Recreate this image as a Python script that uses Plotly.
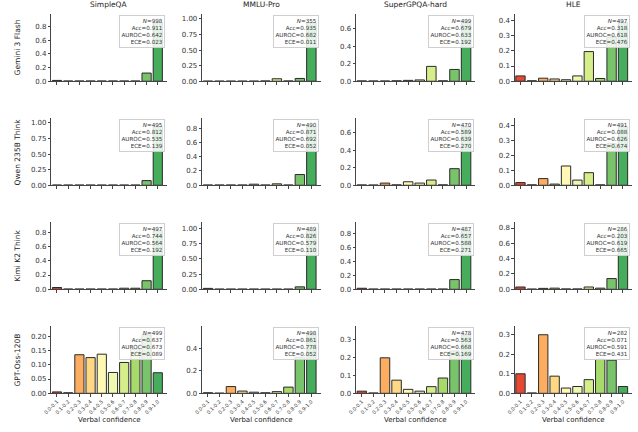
import plotly.graph_objects as go

datasets = ["SimpleQA", "MMLU-Pro", "SuperGPQA-hard", "HLE"]
models = ["Gemini 3 Flash", "Qwen 235B Think", "Kimi K2 Think", "GPT-Oss-120B"]
bins = ["0.0-0.1", "0.1-0.2", "0.2-0.3", "0.3-0.4", "0.4-0.5",
        "0.5-0.6", "0.6-0.7", "0.7-0.8", "0.8-0.9", "0.9-1.0"]

gemini_vals = [
    [0.012, 0.004, 0.004, 0.004, 0.004, 0.004, 0.004, 0.004, 0.12, 0.86],
    [0.002, 0.002, 0.002, 0.002, 0.002, 0.005, 0.04, 0.005, 0.045, 0.94],
    [0.004, 0.003, 0.003, 0.005, 0.01, 0.015, 0.17, 0.005, 0.135, 0.67],
    [0.035, 0.003, 0.02, 0.015, 0.01, 0.035, 0.195, 0.018, 0.29, 0.385],
]
qwen_vals = [
    [0.004, 0.004, 0.004, 0.004, 0.004, 0.004, 0.004, 0.004, 0.075, 0.94],
    [0.004, 0.004, 0.004, 0.004, 0.015, 0.004, 0.02, 0.004, 0.15, 0.82],
    [0.004, 0.003, 0.025, 0.005, 0.04, 0.025, 0.06, 0.005, 0.19, 0.67],
    [0.018, 0.003, 0.045, 0.008, 0.13, 0.035, 0.085, 0.003, 0.28, 0.395],
]
kimi_vals = [
    [0.025, 0.004, 0.004, 0.004, 0.004, 0.004, 0.015, 0.015, 0.12, 0.82],
    [0.015, 0.004, 0.004, 0.004, 0.004, 0.004, 0.004, 0.004, 0.04, 0.965],
    [0.015, 0.004, 0.004, 0.004, 0.004, 0.004, 0.004, 0.004, 0.14, 0.845],
    [0.03, 0.003, 0.012, 0.015, 0.005, 0.005, 0.03, 0.015, 0.14, 0.765],
]
gptoss_vals = [
    [0.005, 0.002, 0.135, 0.125, 0.137, 0.073, 0.108, 0.155, 0.205, 0.072],
    [0.005, 0.002, 0.06, 0.02, 0.01, 0.005, 0.015, 0.055, 0.32, 0.52],
    [0.012, 0.002, 0.197, 0.073, 0.022, 0.012, 0.037, 0.085, 0.235, 0.325],
    [0.1, 0.002, 0.30, 0.088, 0.027, 0.035, 0.07, 0.175, 0.17, 0.035],
]
all_vals = [gemini_vals, qwen_vals, kimi_vals, gptoss_vals]

stat_n = [[998, 355, 499, 497], [495, 490, 470, 491], [497, 489, 487, 286], [499, 498, 478, 282]]
stat_acc = [[0.911, 0.935, 0.679, 0.318], [0.812, 0.871, 0.589, 0.088],
            [0.744, 0.826, 0.657, 0.203], [0.637, 0.861, 0.563, 0.071]]
stat_auroc = [[0.642, 0.682, 0.633, 0.618], [0.535, 0.692, 0.639, 0.626],
              [0.564, 0.579, 0.588, 0.619], [0.673, 0.778, 0.668, 0.591]]
stat_ece = [[0.023, 0.011, 0.192, 0.476], [0.139, 0.052, 0.270, 0.674],
            [0.192, 0.110, 0.271, 0.665], [0.089, 0.052, 0.169, 0.431]]

y_dtick = [[0.2, 0.25, 0.2, 0.1], [0.25, 0.2, 0.2, 0.1],
           [0.2, 0.25, 0.2, 0.2], [0.05, 0.2, 0.1, 0.1]]

bin_colors = ["#e34933", "#f67a49", "#fdad60", "#fed884", "#fff8b4",
              "#eef8b1", "#d6ee8a", "#a8d96b", "#79c46a", "#45ad5c"]

W, H = 638, 432
col_px = [(43, 160), (196, 316), (352, 473), (513, 632)]
row_px = [(14, 82), (119, 187), (224, 292), (329, 397)]
FONT = "DejaVu Sans"

fig = go.Figure()
layout = dict(width=W, height=H, margin=dict(l=0, r=0, t=0, b=0),
              plot_bgcolor="white", paper_bgcolor="white", showlegend=False,
              bargap=0.2, font=dict(family=FONT, color="#222"))
annotations = []

for r in range(4):
    for c in range(4):
        k = r * 4 + c + 1
        xa = "x" if k == 1 else f"x{k}"
        ya = "y" if k == 1 else f"y{k}"
        xkey = "xaxis" if k == 1 else f"xaxis{k}"
        ykey = "yaxis" if k == 1 else f"yaxis{k}"
        vals = all_vals[r][c]
        fig.add_trace(go.Bar(
            x=list(range(10)), y=vals, xaxis=xa, yaxis=ya, width=0.82,
            marker=dict(color=bin_colors, line=dict(color="#2a2a2a", width=1)),
        ))
        x0, x1 = col_px[c]
        yt, yb = row_px[r]
        bottom = (r == 3)
        layout[xkey] = dict(
            domain=[x0 / W, x1 / W], anchor=ya, range=[-0.5, 9.8],
            tickmode="array", tickvals=list(range(10)),
            ticktext=bins if bottom else [""] * 10,
            tickangle=-45, tickfont=dict(size=5, color="#333"),
            showline=True, linecolor="#444", linewidth=1,
            ticks="outside", ticklen=2.5, tickcolor="#444", tickwidth=0.8,
            showgrid=False, zeroline=False, fixedrange=True,
        )
        ymax = max(vals) * 1.15
        dt = y_dtick[r][c]
        fmt = ".2f" if dt in (0.25, 0.05) else ".1f"
        layout[ykey] = dict(
            domain=[1 - yb / H, 1 - yt / H], anchor=xa, range=[0, ymax],
            dtick=dt, tick0=0, tickformat=fmt, tickfont=dict(size=7, color="#333"),
            showline=True, linecolor="#444", linewidth=1,
            ticks="outside", ticklen=2.5, tickcolor="#444", tickwidth=0.8,
            showgrid=False, zeroline=False, fixedrange=True,
        )
        # stats box
        txt = (f"<i>N</i>={stat_n[r][c]}<br>Acc={stat_acc[r][c]:.3f}<br>"
               f"AUROC={stat_auroc[r][c]:.3f}<br>ECE={stat_ece[r][c]:.3f}")
        annotations.append(dict(
            text=txt, xref=f"{xa} domain", yref=f"{ya} domain", x=0.985, y=0.985,
            xanchor="right", yanchor="top", align="right", showarrow=False,
            font=dict(size=5.6, family=FONT, color="#333"),
            bgcolor="rgba(255,255,255,0.85)", bordercolor="#cfcfcf", borderwidth=1,
            borderpad=1.5,
        ))
        if r == 0:
            annotations.append(dict(
                text=datasets[c], xref="paper", yref="paper",
                x=(x0 + x1) / 2 / W, y=1 - (yt - 3) / H, xanchor="center", yanchor="bottom",
                showarrow=False, font=dict(size=7.5, family=FONT, color="#222"),
            ))
        if bottom:
            annotations.append(dict(
                text="Verbal confidence", xref="paper", yref="paper",
                x=(x0 + x1) / 2 / W, y=1 - 424 / H, xanchor="center", yanchor="middle",
                showarrow=False, font=dict(size=7, family=FONT, color="#222"),
            ))
    annotations.append(dict(
        text=models[r], xref="paper", yref="paper", x=9 / W,
        y=1 - (row_px[r][0] + row_px[r][1]) / 2 / H, xanchor="center", yanchor="middle",
        textangle=-90, showarrow=False, font=dict(size=7.5, family=FONT, color="#222"),
    ))

layout["annotations"] = annotations
fig.update_layout(**layout)
fig.write_html("out.html")
